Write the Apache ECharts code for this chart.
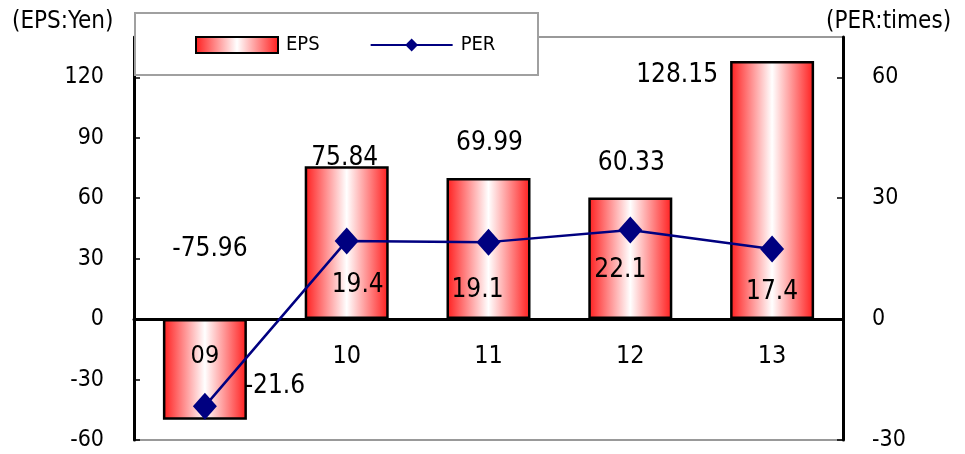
<!DOCTYPE html>
<html>
<head>
<meta charset="utf-8">
<script src="https://cdn.jsdelivr.net/npm/echarts@6/dist/echarts.min.js"></script>
<style>
  html, body { margin: 0; padding: 0; background: #fff; }
  #chart { width: 965px; height: 454px; }
</style>
</head>
<body>
<div id="chart"></div>
<script>
const years = ['09', '10', '11', '12', '13'];
const eps = [-50, 75.84, 69.99, 60.33, 128.15];
const epsLabels = ['-75.96', '75.84', '69.99', '60.33', '128.15'];
const per = [-21.6, 19.4, 19.1, 22.1, 17.4];
const epsTicks = [-60, -30, 0, 30, 60, 90, 120];
const perTicks = [-30, 0, 30, 60];

// label nudges in px, so they sit where the original put them
const epsLabelOffsets = [[5, -120], [-2, -84], [1, -105], [1, -95], [-95, -115]];
const perLabelOffsets = [[70, -20], [11, 44], [-11, 48], [-10, 40], [0, 43]];

const font = '"Liberation Sans Narrow", "DejaVu Sans Condensed", sans-serif';
const barFill = new echarts.graphic.LinearGradient(0, 0, 1, 0, [
    { offset: 0, color: '#ff1c1c' },
    { offset: 0.5, color: '#ffffff' },
    { offset: 1, color: '#ff1c1c' }
]);

const chart = echarts.init(document.getElementById('chart'));

const option = {
    animation: false,
    textStyle: { fontFamily: font },
    grid: {
        left: 134, right: 122, top: 37, bottom: 14,
        outerBoundsMode: 'none',
        show: true, borderColor: '#999', borderWidth: 2, backgroundColor: 'transparent'
    },
    graphic: [
        {
            type: 'rect', z: 3,
            shape: { x: 135, y: 13, width: 403, height: 62 },
            style: { fill: '#fff', stroke: '#a0a0a0', lineWidth: 2 }
        },
        {
            type: 'text', left: 12, top: 10, z: 5,
            style: { text: '(EPS:Yen)', fontSize: 24, fontFamily: font, fill: '#000' }
        },
        {
            type: 'text', left: 826, top: 10, z: 5,
            style: { text: '(PER:times)', fontSize: 24, fontFamily: font, fill: '#000' }
        }
    ],
    legend: {
        left: 190, top: 30, z: 6,
        itemWidth: 82, itemHeight: 16, itemGap: 50,
        textStyle: { fontSize: 20, fontFamily: font, color: '#000', lineHeight: 16, padding: [0, 0, 0, 3] },
        data: [{ name: 'EPS', icon: 'rect' }, 'PER']
    },
    xAxis: {
        type: 'category',
        data: years,
        z: 3,
        axisLine: { onZero: true, lineStyle: { color: '#000', width: 3 } },
        axisTick: { inside: true, length: 6, lineStyle: { color: '#000', width: 1.5 } },
        axisLabel: { fontSize: 25, color: '#000', margin: -96 }
    },
    yAxis: [
        {
            type: 'value', min: -60, max: 140, interval: 30,
            axisLine: { show: true, lineStyle: { color: '#000', width: 3 } },
            axisTick: { show: true, inside: true, length: 6, customValues: epsTicks, lineStyle: { color: '#000', width: 1.5 } },
            axisLabel: { customValues: epsTicks, fontSize: 23, color: '#000', margin: 30 },
            splitLine: { show: false }
        },
        {
            type: 'value', min: -30, max: 70, interval: 30,
            axisLine: { show: true, lineStyle: { color: '#000', width: 3 } },
            axisTick: { show: true, inside: true, length: 6, customValues: perTicks, lineStyle: { color: '#000', width: 1.5 } },
            axisLabel: { customValues: perTicks, fontSize: 23, color: '#000', margin: 29, align: 'left' },
            splitLine: { show: false }
        }
    ],
    series: [
        {
            name: 'EPS',
            type: 'bar',
            barWidth: 84,
            itemStyle: { color: barFill, borderColor: '#000', borderWidth: 2.5 },
            label: {
                show: true, position: 'inside', fontSize: 26, color: '#000',
                formatter: p => epsLabels[p.dataIndex]
            },
            data: eps.map((v, i) => ({ value: v, label: { offset: epsLabelOffsets[i] } }))
        },
        {
            name: 'PER',
            type: 'line',
            yAxisIndex: 1,
            symbol: 'diamond',
            symbolSize: [24, 27],
            lineStyle: { color: '#000080', width: 2.5 },
            itemStyle: { color: '#000080' },
            label: {
                show: true, position: 'inside', fontSize: 26, color: '#000',
                formatter: p => p.value.toFixed(1)
            },
            data: per.map((v, i) => ({ value: v, label: { offset: perLabelOffsets[i] } }))
        }
    ]
};

chart.setOption(option);
</script>
</body>
</html>
